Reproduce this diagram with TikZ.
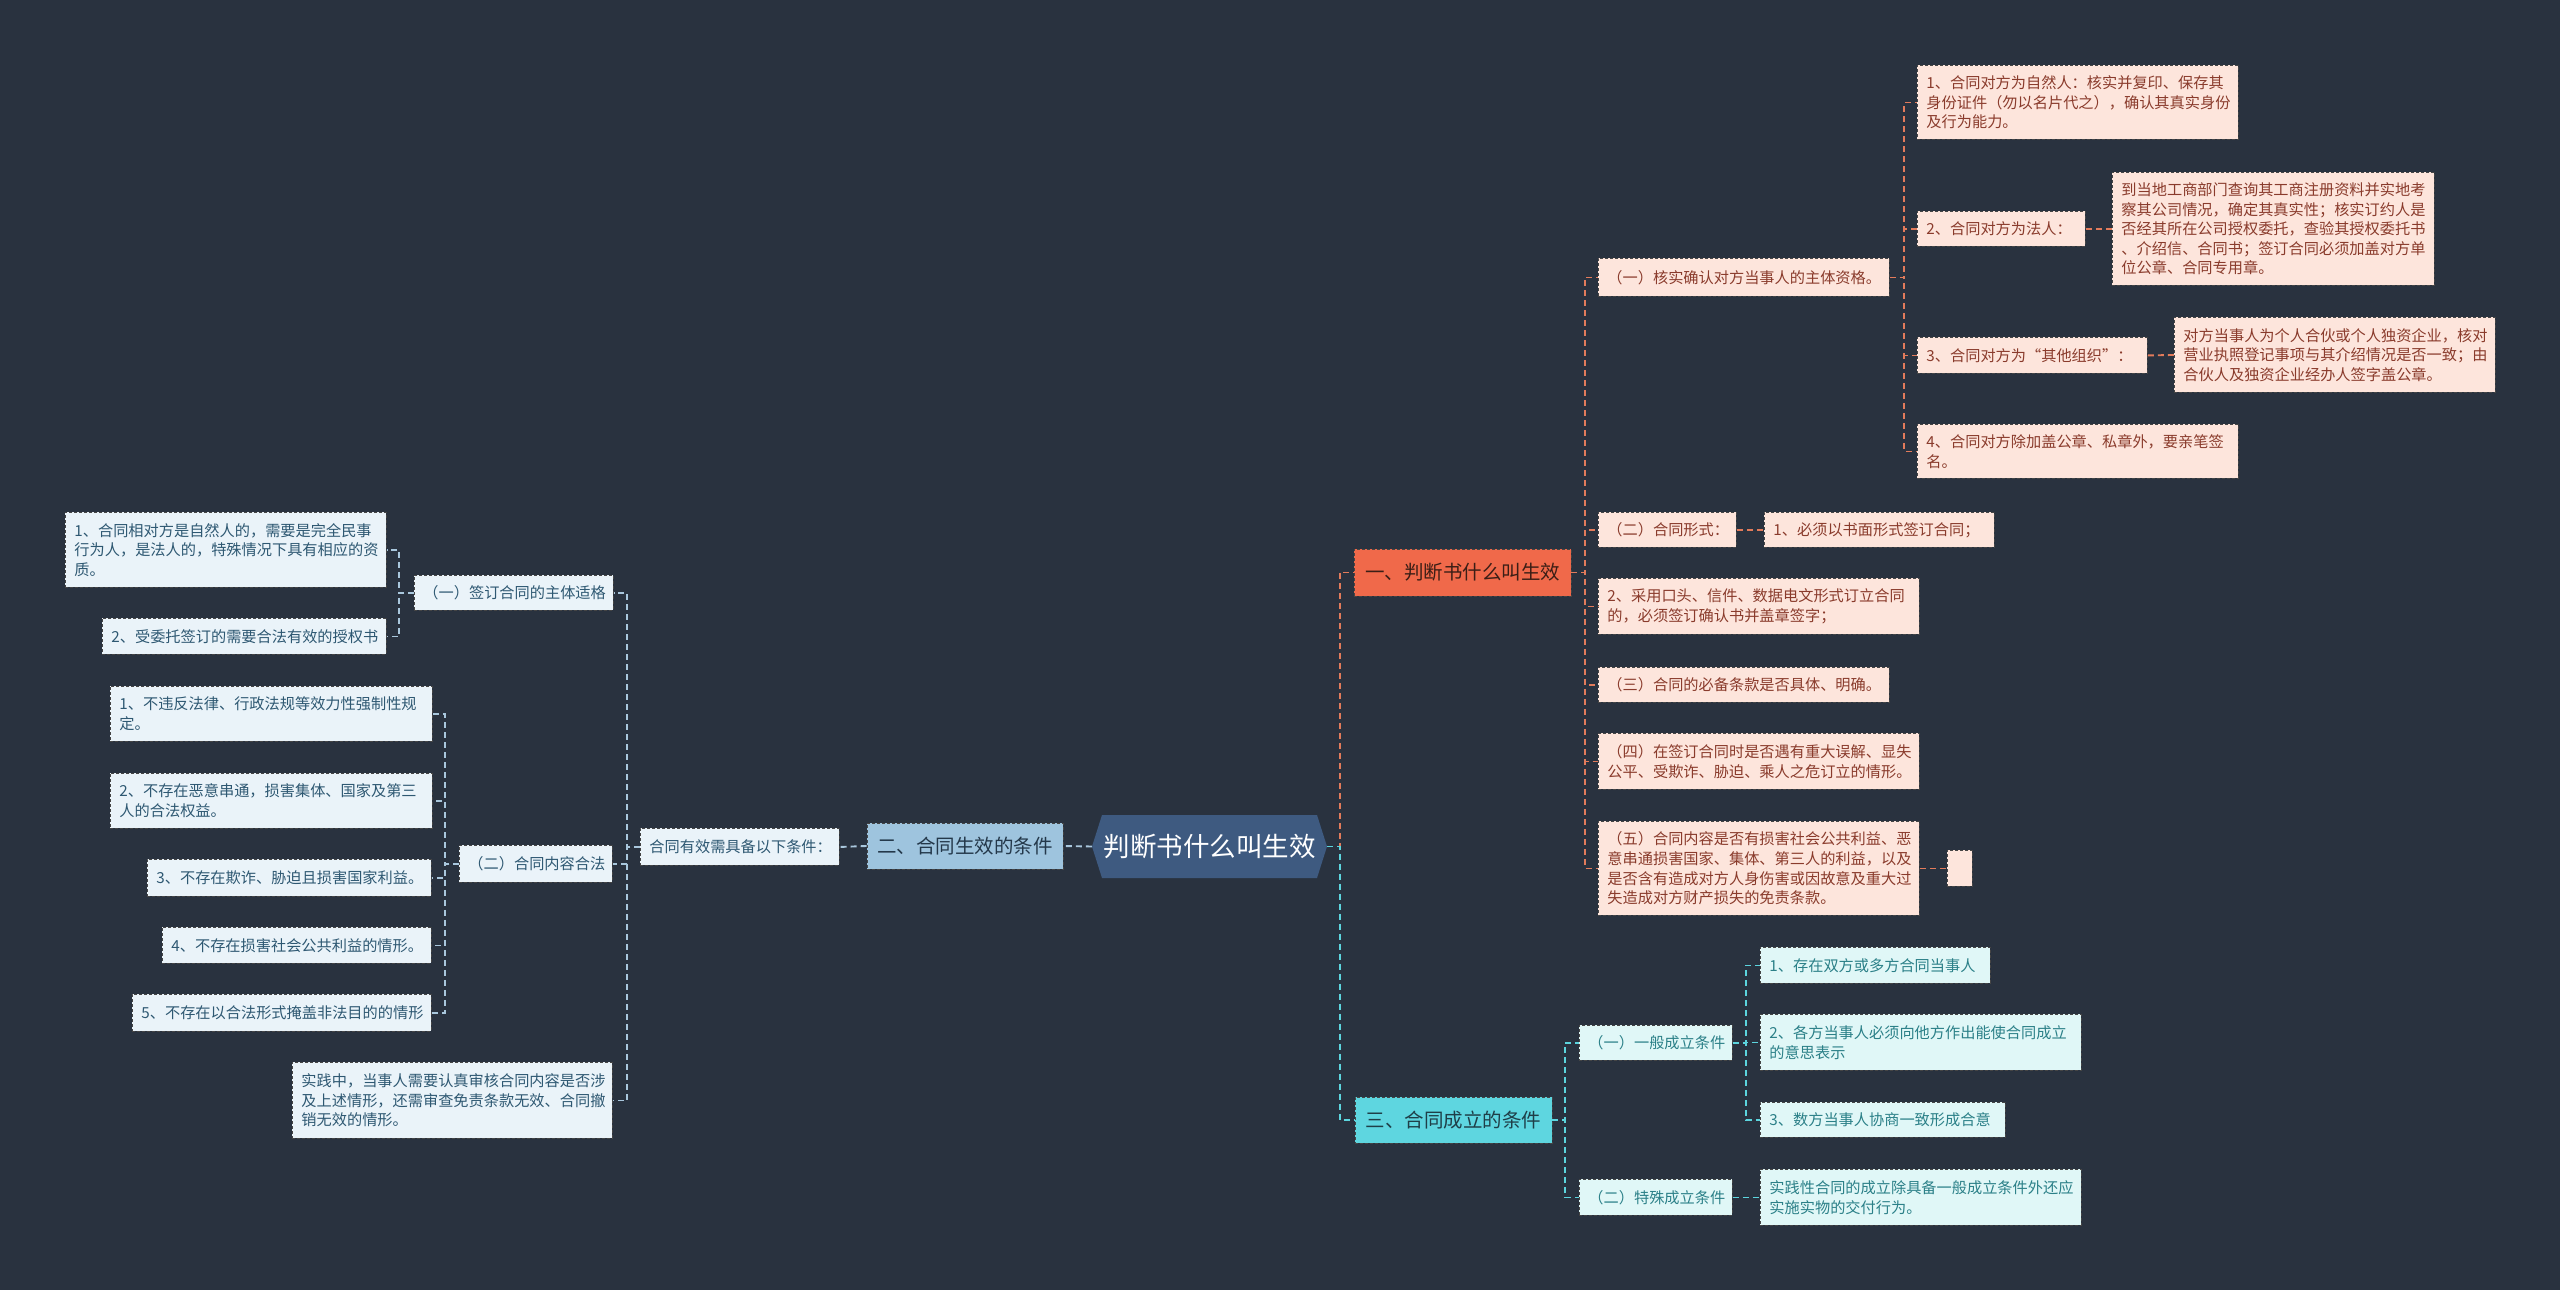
\documentclass[tikz,border=0pt]{standalone}
\usepackage{fontspec}
\newfontfamily\cjk{Noto Sans CJK SC}
\usetikzlibrary{calc}
\definecolor{bg}{HTML}{29323F}
\definecolor{boxline}{HTML}{454545}
\definecolor{ofill}{HTML}{FDE5DC}
\definecolor{otext}{HTML}{8A3B2C}
\definecolor{bfill}{HTML}{EAF3F9}
\definecolor{btext}{HTML}{2E5872}
\definecolor{cfill}{HTML}{E0F7F7}
\definecolor{ctext}{HTML}{2B8088}
\definecolor{oconn}{HTML}{E27B5B}
\definecolor{bconn}{HTML}{A9C7DD}
\definecolor{cconn}{HTML}{5CD5DE}
\definecolor{onefill}{HTML}{F0694A}
\definecolor{onetext}{HTML}{3B1E16}
\definecolor{twofill}{HTML}{9EC4DE}
\definecolor{twotext}{HTML}{24384A}
\definecolor{threefill}{HTML}{5ED6E0}
\definecolor{threetext}{HTML}{1F3F48}
\definecolor{hexfill}{HTML}{3E5A80}
\newcommand\bx[7]{%
  \pgfmathsetmacro\bw{#5-#3-18}%
  \pgfmathsetmacro\bh{#6-#4}%
  \node[#1, anchor=north west, text width=\bw pt, minimum height=\bh pt] (#2) at (#3,#4) {#7};}
\begin{document}
\begin{tikzpicture}[x=1pt,y=-1pt,
  box/.style={draw=boxline, dash pattern=on 3pt off 2pt, line width=0.9pt, inner xsep=9pt, inner ysep=0pt, align=left, font=\cjk\fontsize{15.2}{19.6}\selectfont},
  obox/.style={box, fill=ofill, text=otext},
  bbox/.style={box, fill=bfill, text=btext},
  cbox/.style={box, fill=cfill, text=ctext},
  mainbox/.style={draw=boxline, dash pattern=on 3pt off 2pt, line width=0.9pt, inner sep=0pt, align=center, font=\cjk\fontsize{19.5}{24}\selectfont},
  conn/.style={line width=1.9pt, dash pattern=on 6pt off 4pt},
  oline/.style={conn, draw=oconn},
  bline/.style={conn, draw=bconn},
  cline/.style={conn, draw=cconn}]
\useasboundingbox (0,0) rectangle (2560,1290);
\fill[bg] (0,0) rectangle (2560,1290);

% bus coordinates
\coordinate (busR0) at (1340,0);
\coordinate (busR1) at (1585,0);
\coordinate (busR11) at (1904,0);
\coordinate (busC) at (1565,0);
\coordinate (busC1) at (1746,0);
\coordinate (busL1) at (627,0);
\coordinate (busL2a) at (399,0);
\coordinate (busL2b) at (445,0);

% root
\fill[hexfill] (1092,846.5) -- (1102,815) -- (1317,815) -- (1327,846.5) -- (1317,878) -- (1102,878) -- cycle;
\node[minimum width=235pt, minimum height=63pt, inner sep=0pt, text=white, font=\cjk\fontsize{26.5}{30}\selectfont] (root) at (1209.5,846.5) {判断书什么叫生效};

% main branches
\node[mainbox, fill=onefill, text=onetext, minimum width=217pt, minimum height=47pt] (b1) at (1462.5,572.5) {一、判断书什么叫生效};
\node[mainbox, fill=twofill, text=twotext, minimum width=196pt, minimum height=46pt] (b2) at (965,846) {二、合同生效的条件};
\node[mainbox, fill=threefill, text=threetext, minimum width=197pt, minimum height=46pt] (b3) at (1453.5,1120) {三、合同成立的条件};

% branch 1
\bx{obox}{R1}{1598}{258}{1889}{296}{（一）核实确认对方当事人的主体资格。}
\bx{obox}{R1a}{1917}{65}{2238}{139}{1、合同对方为自然人：核实并复印、保存其\\身份证件（勿以名片代之），确认其真实身份\\及行为能力。}
\bx{obox}{R1b}{1917}{211}{2085}{246}{2、合同对方为法人：}
\bx{obox}{R1b1}{2112}{172}{2434}{285}{到当地工商部门查询其工商注册资料并实地考\\察其公司情况，确定其真实性；核实订约人是\\否经其所在公司授权委托，查验其授权委托书\\、介绍信、合同书；签订合同必须加盖对方单\\位公章、合同专用章。}
\bx{obox}{R1c}{1917}{337}{2147}{373}{3、合同对方为“其他组织”：}
\bx{obox}{R1c1}{2174}{317}{2495}{392}{对方当事人为个人合伙或个人独资企业，核对\\营业执照登记事项与其介绍情况是否一致；由\\合伙人及独资企业经办人签字盖公章。}
\bx{obox}{R1d}{1917}{424}{2238}{478}{4、合同对方除加盖公章、私章外，要亲笔签\\名。}
\bx{obox}{R2}{1598}{512}{1736}{547}{（二）合同形式：}
\bx{obox}{R2a}{1764}{512}{1994}{547}{1、必须以书面形式签订合同；}
\bx{obox}{R3}{1598}{578}{1919}{634}{2、采用口头、信件、数据电文形式订立合同\\的，必须签订确认书并盖章签字；}
\bx{obox}{R4}{1598}{667}{1889}{702}{（三）合同的必备条款是否具体、明确。}
\bx{obox}{R5}{1598}{733}{1919}{789}{（四）在签订合同时是否遇有重大误解、显失\\公平、受欺诈、胁迫、乘人之危订立的情形。}
\bx{obox}{R6}{1598}{821}{1919}{915}{（五）合同内容是否有损害社会公共利益、恶\\意串通损害国家、集体、第三人的利益，以及\\是否含有造成对方人身伤害或因故意及重大过\\失造成对方财产损失的免责条款。}
\bx{obox}{R6e}{1947}{850}{1972}{886}{}

% branch 2
\bx{bbox}{L1}{640}{828}{839}{865}{合同有效需具备以下条件：}
\bx{bbox}{L2a}{414}{575}{613}{610}{（一）签订合同的主体适格}
\bx{bbox}{L3a1}{65}{512}{386}{587}{1、合同相对方是自然人的，需要是完全民事\\行为人，是法人的，特殊情况下具有相应的资\\质。}
\bx{bbox}{L3a2}{102}{618}{386}{654}{2、受委托签订的需要合法有效的授权书}
\bx{bbox}{L2b}{459}{845}{612}{882}{（二）合同内容合法}
\bx{bbox}{L3b1}{110}{686}{432}{741}{1、不违反法律、行政法规等效力性强制性规\\定。}
\bx{bbox}{L3b2}{110}{773}{432}{828}{2、不存在恶意串通，损害集体、国家及第三\\人的合法权益。}
\bx{bbox}{L3b3}{147}{859}{431}{896}{3、不存在欺诈、胁迫且损害国家利益。}
\bx{bbox}{L3b4}{162}{927}{431}{963}{4、不存在损害社会公共利益的情形。}
\bx{bbox}{L3b5}{132}{994}{431}{1031}{5、不存在以合法形式掩盖非法目的的情形}
\bx{bbox}{L2c}{292}{1062}{612}{1138}{实践中，当事人需要认真审核合同内容是否涉\\及上述情形，还需审查免责条款无效、合同撤\\销无效的情形。}

% branch 3
\bx{cbox}{C1}{1579}{1025}{1732}{1060}{（一）一般成立条件}
\bx{cbox}{C1a}{1760}{947}{1990}{983}{1、存在双方或多方合同当事人}
\bx{cbox}{C1b}{1760}{1014}{2081}{1070}{2、各方当事人必须向他方作出能使合同成立\\的意思表示}
\bx{cbox}{C1c}{1760}{1102}{2005}{1137}{3、数方当事人协商一致形成合意}
\bx{cbox}{C2}{1579}{1179}{1732}{1215}{（二）特殊成立条件}
\bx{cbox}{C2a}{1760}{1169}{2081}{1225}{实践性合同的成立除具备一般成立条件外还应\\实施实物的交付行为。}

% connectors
\draw[oline] (root.east) -- (root.east -| busR0) |- (b1.west);
\draw[cline] (root.east) -- (root.east -| busR0) |- (b3.west);
\draw[bline] (root.west) -- (b2.east);
\draw[bline] (b2.west) -- (L1.east);
\foreach \c in {L2a,L2b,L2c} \draw[bline] (L1.west) -- (L1.west -| busL1) |- (\c.east);
\foreach \c in {L3a1,L3a2} \draw[bline] (L2a.west) -- (L2a.west -| busL2a) |- (\c.east);
\foreach \c in {L3b1,L3b2,L3b3,L3b4,L3b5} \draw[bline] (L2b.west) -- (L2b.west -| busL2b) |- (\c.east);
\foreach \c in {R1,R2,R3,R4,R5,R6} \draw[oline] (b1.east) -- (b1.east -| busR1) |- (\c.west);
\foreach \c in {R1a,R1b,R1c,R1d} \draw[oline] (R1.east) -- (R1.east -| busR11) |- (\c.west);
\draw[oline] (R1b.east) -- (R1b1.west);
\draw[oline] (R1c.east) -- (R1c1.west);
\draw[oline] (R2.east) -- (R2a.west);
\draw[oline] (R6.east) -- (R6e.west);
\foreach \c in {C1,C2} \draw[cline] (b3.east) -- (b3.east -| busC) |- (\c.west);
\foreach \c in {C1a,C1b,C1c} \draw[cline] (C1.east) -- (C1.east -| busC1) |- (\c.west);
\draw[cline] (C2.east) -- (C2a.west);
\end{tikzpicture}
\end{document}
